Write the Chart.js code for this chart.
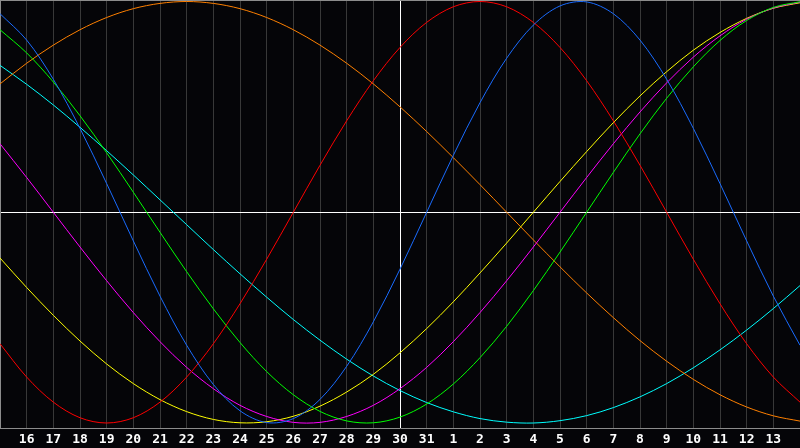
<!DOCTYPE html>
<html>
<head>
<meta charset="utf-8">
<script src="https://cdn.jsdelivr.net/npm/chart.js@4/dist/chart.umd.min.js"></script>
<style>
html,body{margin:0;padding:0;background:#050508;overflow:hidden;}
canvas{display:block;}
</style>
</head>
<body>
<canvas id="c" width="800" height="448"></canvas>
<script>
// Day offsets relative to "today" (the 30th), one value per day
const dayOffsets = [-15,-14,-13,-12,-11,-10,-9,-8,-7,-6,-5,-4,-3,-2,-1,0,1,2,3,4,5,6,7,8,9,10,11,12,13,14,15];
const dayLabels = ['','16','17','18','19','20','21','22','23','24','25','26','27','28','29','30','31','1','2','3','4','5','6','7','8','9','10','11','12','13',''];

// Series values in percent (-100..100)
const redSeries = [-62.4,-78.2,-90.1,-97.5,-100,-97.5,-90.1,-78.2,-62.4,-43.4,-22.3,0,22.3,43.4,62.4,78.2,90.1,97.5,100,97.5,90.1,78.2,62.4,43.4,22.3,0,-22.3,-43.4,-62.4,-78.2,-90.1];
const blueSeries = [94.2,81.7,63.1,39.8,13.6,-13.6,-39.8,-63.1,-81.7,-94.2,-99.8,-97.9,-88.8,-73.1,-52.0,-27.0,0,27.0,52.0,73.1,88.8,97.9,99.8,94.2,81.7,63.1,39.8,13.6,-13.6,-39.8,-63.1];
const greenSeries = [86.6,75.6,61.8,45.8,28.2,9.5,-9.5,-28.2,-45.8,-61.8,-75.6,-86.6,-94.5,-99.0,-99.9,-97.2,-91.0,-81.5,-69.0,-54.1,-37.2,-18.9,0,18.9,37.2,54.1,69.0,81.5,91.0,97.2,99.9];
const orangeSeries = [60.9,70.7,79.3,86.6,92.4,96.6,99.1,100,99.1,96.6,92.4,86.6,79.3,70.7,60.9,50.0,38.3,25.9,13.1,0,-13.1,-25.9,-38.3,-50.0,-60.9,-70.7,-79.3,-86.6,-92.4,-96.6,-99.1];
const cyanSeries = [69.7,60.7,50.9,40.3,29.2,17.7,5.9,-5.9,-17.7,-29.2,-40.3,-50.9,-60.7,-69.7,-77.7,-84.6,-90.3,-94.7,-97.9,-99.6,-100,-98.9,-96.5,-92.7,-87.6,-81.3,-73.8,-65.3,-55.9,-45.7,-34.8];
const magentaSeries = [32.5,16.5,0,-16.5,-32.5,-47.6,-61.4,-73.6,-83.7,-91.6,-96.9,-99.7,-99.7,-96.9,-91.6,-83.7,-73.6,-61.4,-47.6,-32.5,-16.5,0,16.5,32.5,47.6,61.4,73.6,83.7,91.6,96.9,99.7];
const yellowSeries = [-21.7,-35.7,-48.9,-61.1,-72.0,-81.3,-88.9,-94.6,-98.3,-99.9,-99.4,-96.8,-92.0,-85.3,-76.9,-66.7,-55.2,-42.5,-28.8,-14.6,0,14.6,28.8,42.5,55.2,66.7,76.9,85.3,92.0,96.8,99.4];

const seriesList = [
  {name:'Physical', data: blueSeries, color:'#1a6cff'},
  {name:'Emotional', data: redSeries, color:'#ff0000'},
  {name:'Intellectual', data: greenSeries, color:'#00ff00'},
  {name:'Intuitive', data: magentaSeries, color:'#ff00ff'},
  {name:'Aesthetic', data: yellowSeries, color:'#ffff00'},
  {name:'Awareness', data: orangeSeries, color:'#ff8000'},
  {name:'Spiritual', data: cyanSeries, color:'#00ffff'}
];

const frameColor = '#8c8c8c';
const gridColor = '#383838';

const topBorder = {
  id:'topBorder',
  afterDraw(chart){
    const {ctx, chartArea} = chart;
    ctx.save();
    ctx.strokeStyle = frameColor;
    ctx.lineWidth = 1;
    ctx.beginPath();
    ctx.moveTo(chartArea.left, 0.5);
    ctx.lineTo(chartArea.right, 0.5);
    ctx.stroke();
    ctx.restore();
  }
};

new Chart(document.getElementById('c'), {
  type:'line',
  data:{
    datasets: seriesList.map(s => ({
      label: s.name,
      data: s.data.map((v,i) => ({x: dayOffsets[i], y: v})),
      borderColor: s.color,
      backgroundColor: s.color,
      borderWidth: 1,
      pointRadius: 0,
      pointHoverRadius: 0,
      tension: 0.33,
      fill: false
    }))
  },
  options:{
    responsive:false,
    devicePixelRatio:1,
    animation:false,
    events:[],
    layout:{padding:0, autoPadding:false},
    plugins:{legend:{display:false}, tooltip:{enabled:false}},
    scales:{
      x:{
        type:'linear',
        min:-15, max:15,
        afterBuildTicks(scale){
          scale.ticks = dayOffsets.map(v => ({value:v}));
        },
        afterFit(scale){ scale.height = 20; scale.paddingLeft = 0; scale.paddingRight = 0; },
        ticks:{
          autoSkip:false,
          maxRotation:0,
          padding:4,
          color:'#ffffff',
          font:{family:'DejaVu Sans Mono', size:13, weight:'bold'},
          callback:(v) => dayLabels[Math.round(v) + 15] || ''
        },
        grid:{
          drawTicks:false,
          lineWidth:1,
          color: (ctx) => {
            if (!ctx.tick) return gridColor;
            if (ctx.tick.value === 0) return '#ffffff';
            if (ctx.tick.value === -15 || ctx.tick.value === 15) return 'rgba(0,0,0,0)';
            return gridColor;
          }
        },
        border:{display:true, color:frameColor, width:1}
      },
      y:{
        type:'linear',
        min:-102.37, max:100.71,
        afterBuildTicks(scale){ scale.ticks = [{value:0}]; },
        afterFit(scale){ scale.width = 0; },
        ticks:{display:false},
        grid:{drawTicks:false, color:'#ffffff', lineWidth:1},
        border:{display:true, color:frameColor, width:1}
      }
    }
  },
  plugins:[topBorder]
});
</script>
</body>
</html>
